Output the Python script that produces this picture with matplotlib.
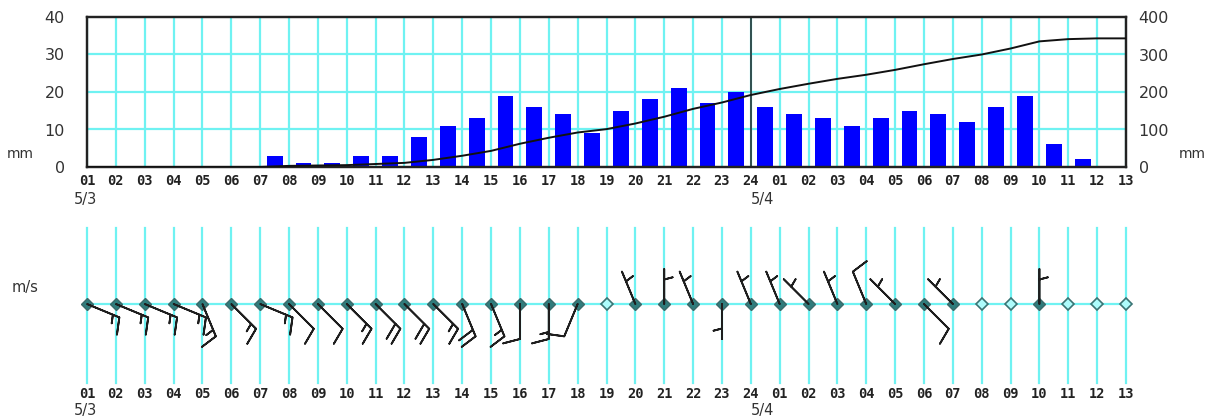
import matplotlib
matplotlib.use('Agg')
import matplotlib.pyplot as plt
import numpy as np

# ---- data -------------------------------------------------------------------
hour_labels = ["01", "02", "03", "04", "05", "06", "07", "08", "09", "10",
               "11", "12", "13", "14", "15", "16", "17", "18", "19", "20",
               "21", "22", "23", "24",
               "01", "02", "03", "04", "05", "06", "07", "08", "09", "10",
               "11", "12", "13"]

# hourly rain (mm), one value per hour ending at hour_labels[1:]
rain_mm = [0, 0, 0, 0, 0, 0,
           3, 1, 1, 3, 3, 8, 11, 13, 19, 16, 14, 9, 15, 18, 21, 17, 20,
           16, 14, 13, 11, 13, 15, 14, 12, 16, 19, 6, 2, 0]

# cumulative rain (mm), one value per hour label
cum_mm = [0, 0, 0, 0, 0, 0, 0,
          3, 4, 5, 8, 11, 19, 30, 43, 62, 78, 92, 101, 116, 134, 155, 172, 192,
          208, 222, 235, 246, 259, 274, 288, 300, 316, 335, 341, 343, 343]

# wind: direction the wind blows from, speed (barb units); "calm" = no barb
wind_dir = ["ESE", "ESE", "ESE", "ESE", "SSE", "SE", "ESE", "SE", "SE", "SE",
            "SE", "SE", "SE", "SSE", "SSE", "S", "S", "SSW", "calm", "NNW",
            "N", "NNW", "S", "NNW",
            "NNW", "NW", "NNW", "NNW", "NW", "SE", "NW", "calm", "calm", "N",
            "calm", "calm", "calm"]
wind_speed = [15, 15, 15, 15, 15, 15, 15, 10, 10, 15, 20, 20, 15, 20, 15, 10,
              15, 10, 0, 5, 5, 5, 5, 5,
              5, 5, 5, 10, 5, 10, 5, 0, 0, 5, 0, 0, 0]

COMPASS = {"N": 0, "NNE": 22.5, "NE": 45, "ENE": 67.5, "E": 90, "ESE": 112.5,
           "SE": 135, "SSE": 157.5, "S": 180, "SSW": 202.5, "SW": 225,
           "WSW": 247.5, "W": 270, "WNW": 292.5, "NW": 315, "NNW": 337.5}

CYAN = "#6ff2f2"
W, H = 1210, 419

fig = plt.figure(figsize=(W / 100, H / 100), dpi=100, facecolor="white")

# ---- rain panel --------------------------------------------------------------
ax = fig.add_axes([87 / W, 1 - 167 / H, 1039 / W, 150 / H])
x = np.arange(len(hour_labels))
ax.set_xlim(0, len(hour_labels) - 1)
ax.set_ylim(0, 40)
for xi in x:
    ax.axvline(xi, color=CYAN, lw=1.6, zorder=0)
for yv in (10, 20, 30):
    ax.axhline(yv, color=CYAN, lw=1.6, zorder=0)

ax.bar(np.arange(len(rain_mm)) + 0.5, rain_mm, width=0.55, color="#0000ff",
       zorder=2)
ax.axvline(23, color="#222222", lw=1.1, zorder=3)

for s in ax.spines.values():
    s.set_linewidth(1.6)
    s.set_color("#222222")
ax.set_xticks(x)
ax.set_xticklabels(hour_labels, family="DejaVu Sans Mono", fontweight="bold",
                   fontsize=9.8, color="#222222")
ax.set_yticks([0, 10, 20, 30, 40])
ax.set_yticklabels(["0", "10", "20", "30", "40"], fontsize=11.5,
                   color="#333333")
ax.tick_params(axis="x", length=0, pad=5)
ax.tick_params(axis="y", length=0, pad=16)

ax2 = ax.twinx()
ax2.set_ylim(0, 400)
ax2.plot(x, cum_mm, color="#111111", lw=1.4, zorder=5)
ax2.set_yticks([0, 100, 200, 300, 400])
ax2.set_yticklabels(["0", "100", "200", "300", "400"], fontsize=11.5,
                    color="#333333")
ax2.tick_params(axis="y", length=0, pad=9)
for s in ax2.spines.values():
    s.set_linewidth(1.6)
    s.set_color("#222222")

fig.text(20 / W, 1 - 154 / H, "mm", fontsize=10, ha="center", va="center",
         color="#333333")
fig.text(1192 / W, 1 - 154 / H, "mm", fontsize=10, ha="center", va="center",
         color="#333333")
fig.text(85 / W, 1 - 199 / H, "5/3", fontsize=10.5, ha="center", va="center",
         color="#333333")
fig.text(762 / W, 1 - 199 / H, "5/4", fontsize=10.5, ha="center", va="center",
         color="#333333")

# ---- wind panel --------------------------------------------------------------
axw = fig.add_axes([87 / W, 1 - 383 / H, 1039 / W, 155 / H])
axw.set_xlim(0, len(hour_labels) - 1)
axw.set_ylim(-79, 76)
for s in axw.spines.values():
    s.set_visible(False)
for xi in x:
    axw.axvline(xi, color=CYAN, lw=1.6, zorder=0, clip_on=False)
axw.axhline(0, color=CYAN, lw=1.6, zorder=0, clip_on=False)
axw.set_xticks(x)
axw.set_xticklabels(hour_labels, family="DejaVu Sans Mono", fontweight="bold",
                    fontsize=9.8, color="#222222")
axw.set_yticks([])
axw.tick_params(axis="x", length=0, pad=3)

calm = np.array([d == "calm" for d in wind_dir])
axw.plot(x[~calm], np.zeros((~calm).sum()), "D", ms=6, mfc="#2f7c7c",
         mec="#3a6a6a", mew=1.0, zorder=3, clip_on=False)
axw.plot(x[calm], np.zeros(calm.sum()), "D", ms=6, mfc="#aefcfc",
         mec="#3a7474", mew=1.2, zorder=3, clip_on=False)

# barb length: shaft in px is roughly length**2 / 2 * dpi / 72
bearing = np.deg2rad([COMPASS.get(d, 0) for d in wind_dir])
spd = np.array(wind_speed, float)
u = -spd * np.sin(bearing)
v = -spd * np.cos(bearing)
axw.barbs(x[~calm], np.zeros((~calm).sum()), u[~calm], v[~calm],
          length=7.1, sizes=dict(height=0.48, spacing=0.2, emptybarb=0),
          linewidth=1.3, color="#1e1e1e", zorder=4, clip_on=False)

fig.text(25 / W, 1 - 287 / H, "m/s", fontsize=10.5, ha="center", va="center",
         color="#333333")
fig.text(85 / W, 1 - 410 / H, "5/3", fontsize=10.5, ha="center", va="center",
         color="#333333")
fig.text(762 / W, 1 - 410 / H, "5/4", fontsize=10.5, ha="center", va="center",
         color="#333333")

fig.savefig("out.png", dpi=100, facecolor="white")
